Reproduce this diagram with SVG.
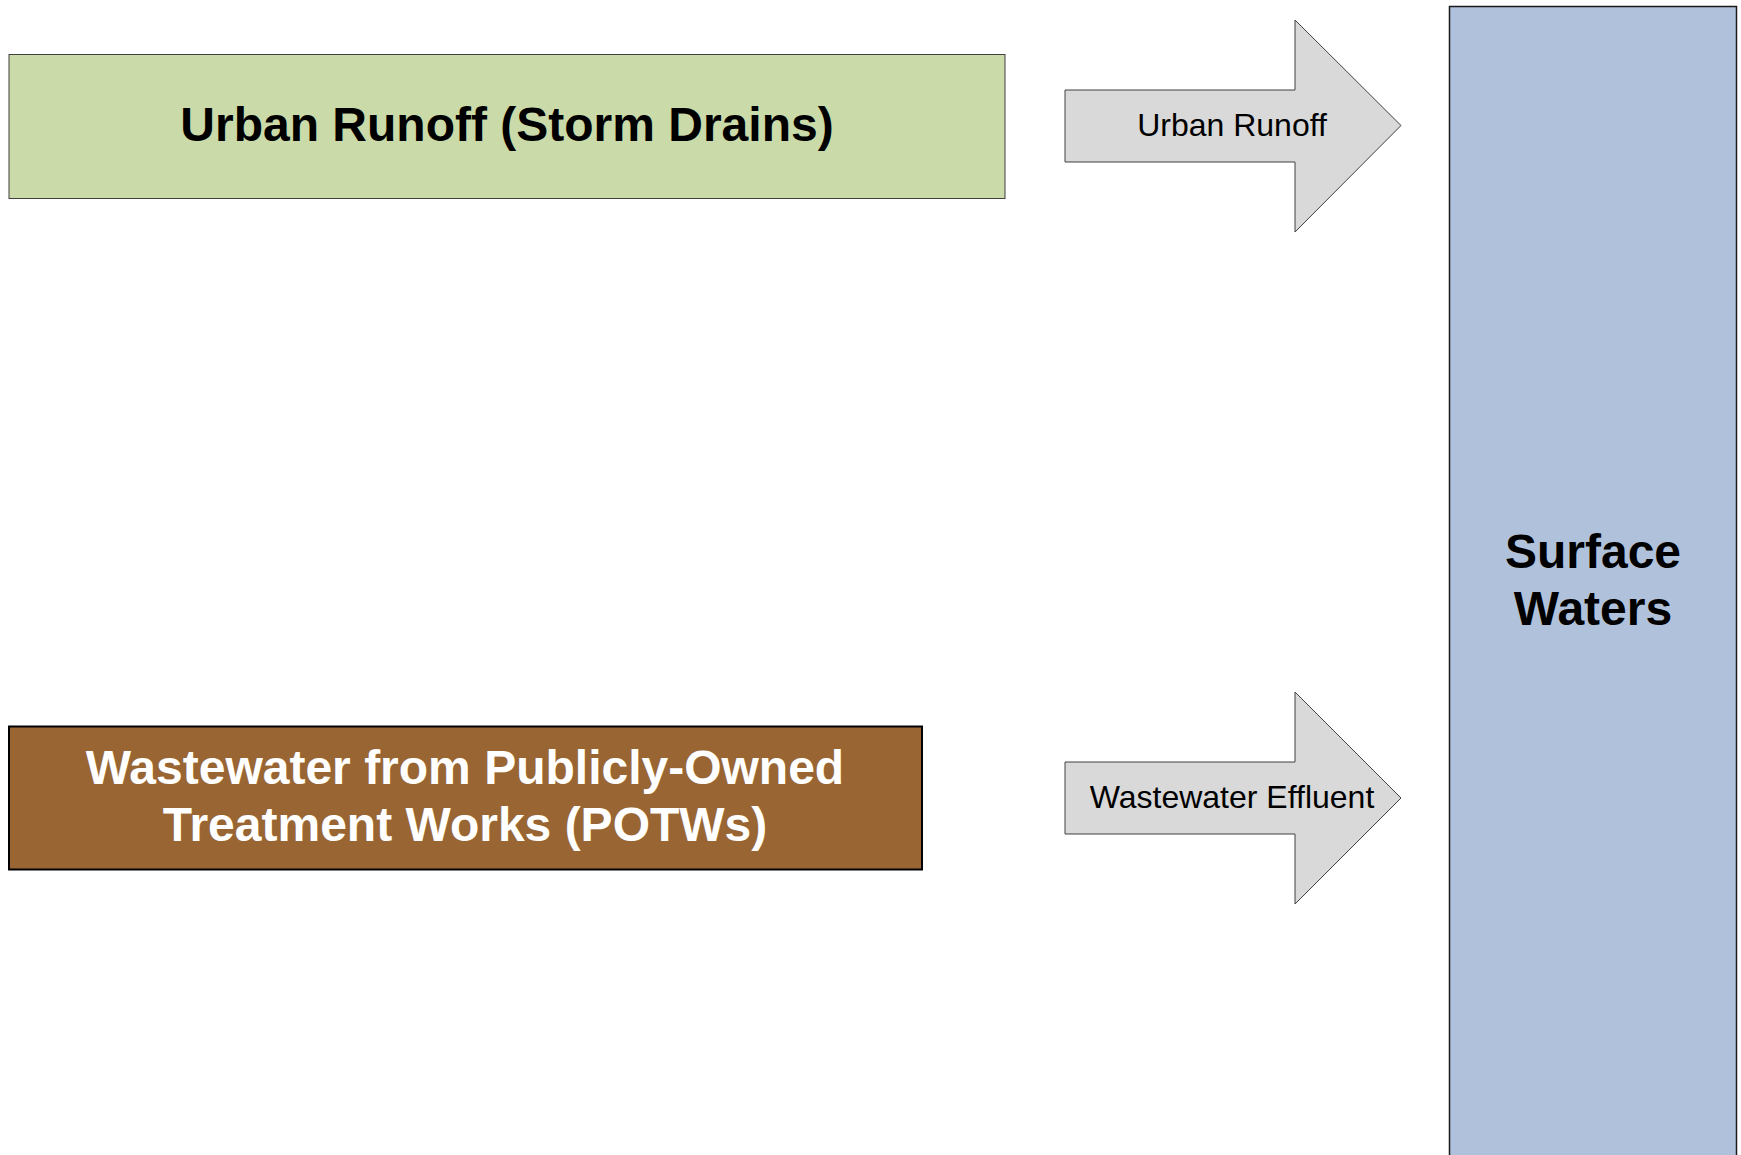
<svg xmlns="http://www.w3.org/2000/svg" width="1741" height="1155" viewBox="0 0 1741 1155">
<style>
.t{font-family:"Liberation Sans",Arial,sans-serif}
.b{font-weight:bold;font-size:48px;text-anchor:middle}
.a{fill:#D9D9D9;stroke:#404040;stroke-width:1}
.al{font-size:32px;text-anchor:middle;fill:#000}
</style>
<rect width="1741" height="1155" fill="#FFFFFF"/>
<g id="surface-waters">
<rect x="1449.5" y="6.5" width="287" height="1160" fill="#B0C2DB" stroke="#1a1a1a" stroke-width="1.5"/>
<text class="t b" x="1593" y="568">Surface</text>
<text class="t b" x="1593" y="625">Waters</text>
</g>
<g id="urban-runoff">
<rect x="9" y="54.5" width="996" height="144" fill="#CADAA8" stroke="#404040" stroke-width="1"/>
<text class="t b" x="507" y="141">Urban Runoff (Storm Drains)</text>
</g>
<g id="potw">
<rect x="9" y="726.5" width="913" height="143" fill="#996633" stroke="#000" stroke-width="2"/>
<text class="t b" x="465" y="784" fill="#FFFFFF">Wastewater from Publicly-Owned</text>
<text class="t b" x="465" y="841" fill="#FFFFFF">Treatment Works (POTWs)</text>
</g>
<g id="connectors">
<g id="arrow-urban">
<polygon class="a" points="1065,90 1295,90 1295,20 1401,125.5 1295,232 1295,162 1065,162"/>
<text class="t al" x="1232" y="136">Urban Runoff</text>
</g>
<g id="arrow-effluent">
<polygon class="a" points="1065,762 1295,762 1295,692 1401,798 1295,904 1295,834 1065,834"/>
<text class="t al" x="1232" y="808">Wastewater Effluent</text>
</g>
</g>
</svg>
